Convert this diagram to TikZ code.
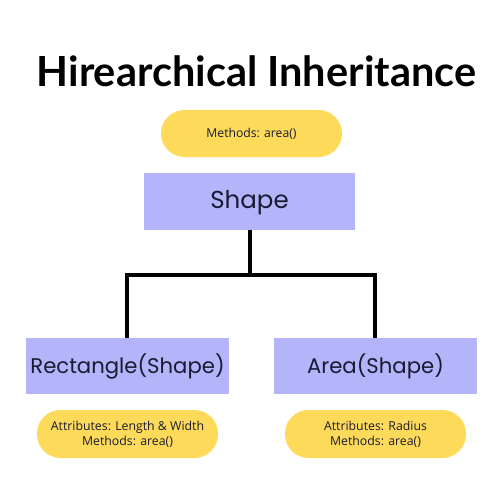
\documentclass[tikz,border=0pt]{standalone}
\usepackage{fontspec}
\setmainfont{Open Sans}
\newfontfamily\titlefont{Lato}
\newfontfamily\boxfont{Poppins}
\newfontfamily\pillfont{Open Sans}
\definecolor{pillyellow}{HTML}{FDDA5A}
\definecolor{boxpurple}{HTML}{B4B4FA}
\definecolor{boxtext}{HTML}{1A1A33}
\begin{document}
\begin{tikzpicture}[x=1pt,y=-1pt,
  pill/.style={fill=pillyellow, rounded corners=23.5pt, inner sep=0pt},
  classbox/.style={fill=boxpurple, inner sep=0pt},
  link/.style={line width=3.5pt, black}
]
\useasboundingbox[fill=white] (0,0) rectangle (500,500);
\node[font=\titlefont\bfseries\fontsize{41.5}{45}\selectfont, anchor=base] (title) at (256.5,87) {Hirearchical Inheritance};

\node[pill, minimum width=181pt, minimum height=47pt] (top) at (251.5,133.5) {};
\node[font=\pillfont\fontsize{12.2}{14}\selectfont, text=boxtext] (toptext) at (top.center) {Methods: area()};

\node[classbox, minimum width=211pt, minimum height=57pt] (shape) at (249.5,201.5) {};
\node[font=\boxfont\fontsize{24.5}{28}\selectfont, text=boxtext] (shapetext) at (249.5,203) {Shape};

\node[classbox, minimum width=203pt, minimum height=56pt, font=\boxfont\fontsize{21.2}{26}\selectfont, text=boxtext] (rect) at (127.5,366) {Rectangle(Shape)};
\node[classbox, minimum width=203pt, minimum height=56pt, font=\boxfont\fontsize{21.2}{26}\selectfont, text=boxtext] (area) at (375.5,366) {Area(Shape)};

\node[pill, minimum width=181pt, minimum height=48pt] (lp) at (127.5,434) {};
\node[font=\pillfont\fontsize{12.3}{15}\selectfont, text=boxtext, align=center] (lptext) at (lp.center) {Attributes: Length \& Width\\Methods: area()};
\node[pill, minimum width=181pt, minimum height=48pt] (rp) at (375.5,434) {};
\node[font=\pillfont\fontsize{12.3}{15}\selectfont, text=boxtext, align=center] (rptext) at (rp.center) {Attributes: Radius\\Methods: area()};

\coordinate (j) at (250,275);
\coordinate (jl) at (127,275);
\coordinate (jr) at (375,275);
\draw[link] (shape.south -| j) -- (j);
\draw[link, line join=miter] (rect.north -| jl) -- (jl) -- (jr) -- (area.north -| jr);
\end{tikzpicture}
\end{document}
